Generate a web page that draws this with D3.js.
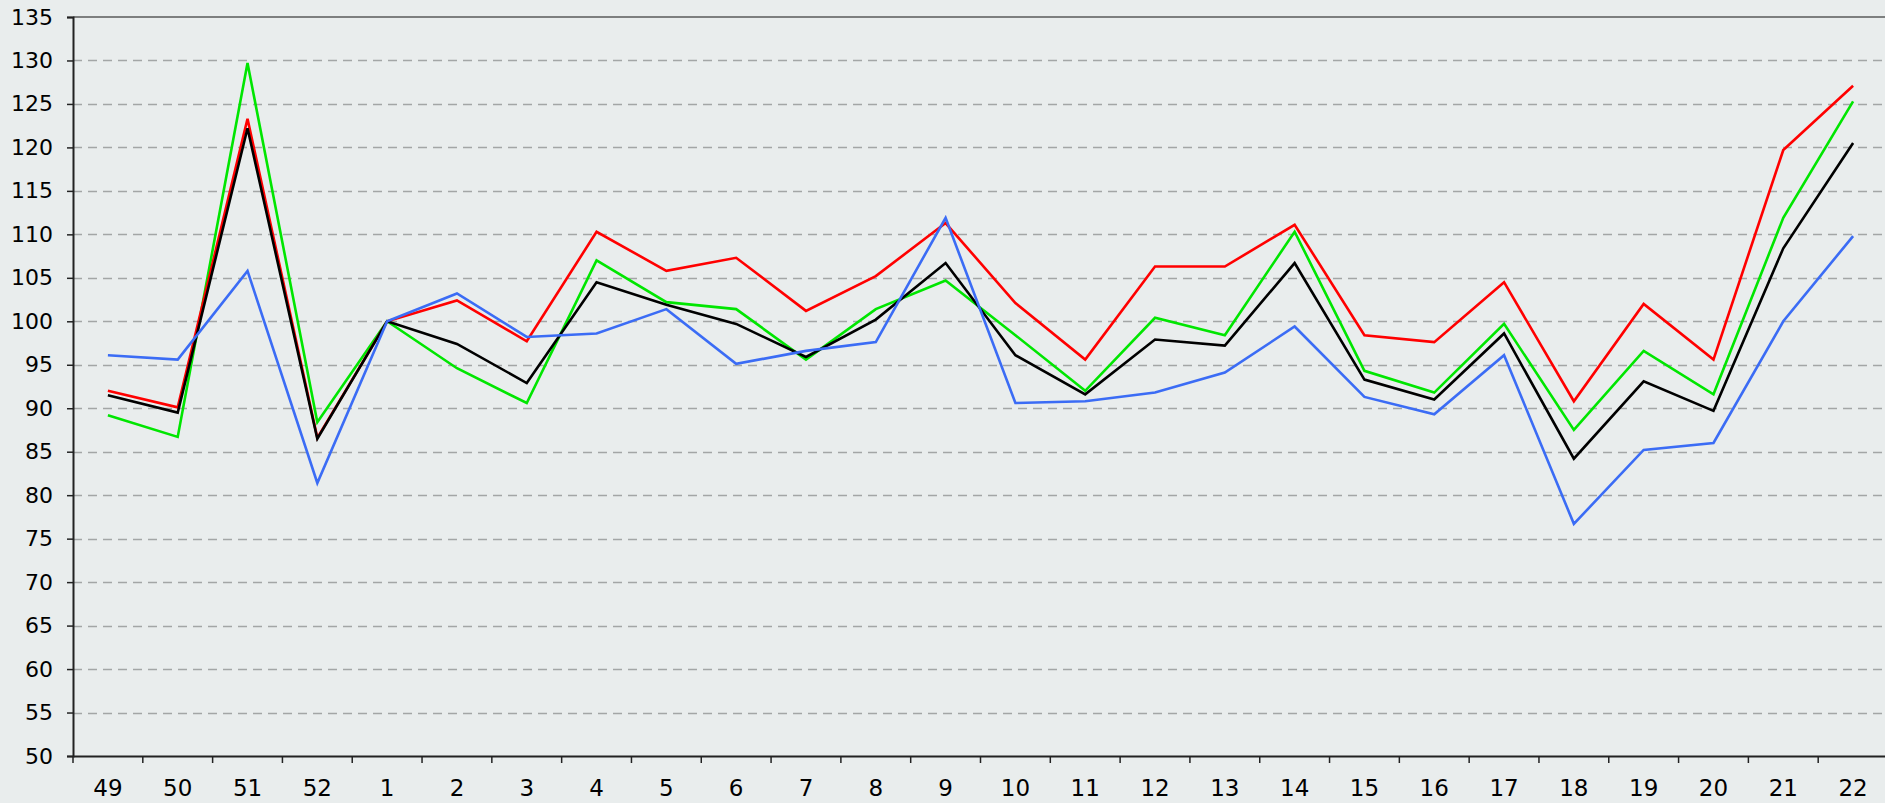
<!DOCTYPE html>
<html><head><meta charset="utf-8">
<script src="https://cdn.jsdelivr.net/npm/d3@7"></script>
<style>
html,body{margin:0;padding:0;background:#e9eded;overflow:hidden;}
svg{display:block;}
text{font-family:"DejaVu Sans",sans-serif;}
</style></head>
<body>
<svg id="chart" width="1885" height="803"></svg>
<script>
const weeks = ["49","50","51","52","1","2","3","4","5","6","7","8","9","10","11","12","13","14","15","16","17","18","19","20","21","22"];
const redValues   = [92.0, 90.1, 123.3, 86.6, 100, 102.4, 97.7, 110.3, 105.8, 107.3, 101.2, 105.2, 111.3, 102.1, 95.6, 106.3, 106.3, 111.1, 98.4, 97.6, 104.5, 90.8, 102.0, 95.6, 119.7, 127.1];
const greenValues = [89.2, 86.7, 129.7, 88.4, 100, 94.6, 90.6, 107.0, 102.2, 101.4, 95.6, 101.4, 104.7, 98.4, 92.0, 100.4, 98.4, 110.3, 94.3, 91.8, 99.7, 87.5, 96.6, 91.6, 111.9, 125.3];
const blackValues = [91.5, 89.5, 122.2, 86.5, 100, 97.4, 92.9, 104.5, 101.9, 99.7, 95.9, 100.2, 106.7, 96.1, 91.6, 97.9, 97.2, 106.7, 93.3, 91.0, 98.6, 84.2, 93.1, 89.7, 108.4, 120.5];
const blueValues  = [96.1, 95.6, 105.8, 81.4, 100, 103.2, 98.2, 98.6, 101.4, 95.1, 96.6, 97.6, 111.9, 90.6, 90.8, 91.8, 94.1, 99.4, 91.3, 89.3, 96.1, 76.7, 85.2, 86.0, 100.0, 109.8];
const yTicks = [50,55,60,65,70,75,80,85,90,95,100,105,110,115,120,125,130,135];

const series = [
  {name:"green", values:greenValues, color:"#00e600"},
  {name:"red", values:redValues, color:"#ff0000"},
  {name:"black", values:blackValues, color:"#000000"},
  {name:"blue", values:blueValues, color:"#3b6cf5"}
];

const svg = d3.select("#chart");
const mLeft = 73, mRight = 1888, mTop = 17, mBottom = 756;

const x = d3.scaleBand().domain(weeks).range([mLeft, mRight]).paddingInner(0).paddingOuter(0);
const y = d3.scaleLinear().domain([50,135]).range([mBottom, mTop]);

// gridlines
svg.append("g").selectAll("line").data(yTicks.filter(v=>v>50 && v<135)).join("line")
  .attr("x1", mLeft).attr("x2", mRight)
  .attr("y1", d=>Math.round(y(d))+0.5).attr("y2", d=>Math.round(y(d))+0.5)
  .attr("stroke","#a3a6a6").attr("stroke-width",1.3).attr("stroke-dasharray","9,6");

// top border
svg.append("line").attr("x1",mLeft).attr("x2",mRight).attr("y1",mTop).attr("y2",mTop)
  .attr("stroke","#7d7f7f").attr("stroke-width",2);

// y axis
const yAxis = d3.axisLeft(y).tickValues(yTicks).tickSize(6).tickPadding(14).tickFormat(d3.format("d"));
const gy = svg.append("g").attr("transform",`translate(${mLeft},0)`).call(yAxis);
gy.select(".domain").attr("stroke","#222").attr("stroke-width",2);
gy.selectAll(".tick line").attr("stroke","#222").attr("stroke-width",1.5);
gy.selectAll(".tick text").attr("fill","#000").style("font-size","22px");

// x axis
const xAxis = d3.axisBottom(x).tickSize(0).tickPadding(24);
const gx = svg.append("g").attr("transform",`translate(0,${mBottom})`).call(xAxis);
gx.select(".domain").attr("stroke","#222").attr("stroke-width",2);
gx.selectAll(".tick text").attr("fill","#000").style("font-size","23px");
// ticks between categories
svg.append("g").selectAll("line").data(weeks).join("line")
  .attr("x1", d=>x(d)).attr("x2", d=>x(d))
  .attr("y1", mBottom).attr("y2", mBottom+7)
  .attr("stroke","#222").attr("stroke-width",1.5);

// lines
const line = d3.line().x((d,i)=>x(weeks[i])+x.bandwidth()/2).y(d=>y(d));
svg.append("g").selectAll("path").data(series).join("path")
  .attr("d", d=>line(d.values))
  .attr("fill","none").attr("stroke", d=>d.color).attr("stroke-width",2.6)
  .attr("stroke-linejoin","miter");
</script>
</body></html>
